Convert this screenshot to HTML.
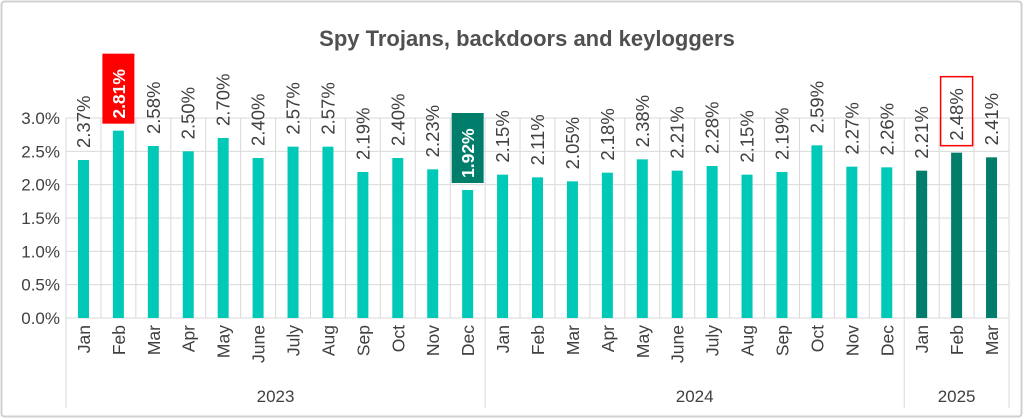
<!DOCTYPE html><html><head><style>body{margin:0;background:#fff}svg{display:block}text{font-family:"Liberation Sans",sans-serif}</style></head><body>
<svg width="1024" height="419" xmlns="http://www.w3.org/2000/svg">
<rect x="1.5" y="1.5" width="1020" height="415" rx="3" fill="#fff" stroke="#d0d0d0" stroke-width="2"/>
<text x="527" y="46" text-anchor="middle" font-size="22" font-weight="bold" fill="#505050">Spy Trojans, backdoors and keyloggers</text>
<g id="c"></g>
</svg>
<script>
const v=[2.37,2.81,2.58,2.50,2.70,2.40,2.57,2.57,2.19,2.40,2.23,1.92,2.15,2.11,2.05,2.18,2.38,2.21,2.28,2.15,2.19,2.59,2.27,2.26,2.21,2.48,2.41];
const m=["Jan","Feb","Mar","Apr","May","June","July","Aug","Sep","Oct","Nov","Dec"];
const L=66,R=1009,T=118,B=318,W=(R-L)/27;let s="";
for(let i=0;i<=6;i++){const y=B-i*(B-T)/6;s+=`<line x1="${L}" x2="${R}" y1="${y}" y2="${y}" stroke="#d9d9d9"/>`;s+=`<text x="60" y="${y+6}" text-anchor="end" font-size="17" fill="#404040">${(i*0.5).toFixed(1)}%</text>`;}
for(let i=0;i<=27;i++){const x=L+i*W;const big=(i==0||i==12||i==24||i==27);s+=`<line x1="${x}" x2="${x}" y1="${T}" y2="${big?408:B}" stroke="#d9d9d9"/>`;}
v.forEach((d,i)=>{const cx=L+(i+.5)*W,top=B-d*(B-T)/3;const dark=i>=24;
s+=`<rect x="${cx-5.5}" y="${top}" width="11" height="${B-top}" fill="${dark?'#007e6b':'#00c9b7'}"/>`;
let fill="#404040",fw="normal";const ty=top-12;
if(i==1){s+=`<rect x="${cx-16}" y="${ty-65}" width="32" height="70" fill="#ff0000"/>`;fill="#fff";fw="bold";}
if(i==11){s+=`<rect x="${cx-16}" y="${ty-65}" width="32" height="70" fill="#007e6b"/>`;fill="#fff";fw="bold";}
if(i==25){s+=`<rect x="${cx-16}" y="${ty-64}" width="32" height="69" fill="none" stroke="#ff0000" stroke-width="1.5"/>`;}
s+=`<text transform="translate(${cx+6.5},${ty}) rotate(-90)" font-size="${fw=='bold'?17.5:18.5}" font-weight="${fw}" fill="${fill}">${d.toFixed(2)}%</text>`;
s+=`<text transform="translate(${cx+6.5},${325}) rotate(-90)" text-anchor="end" font-size="17.5" fill="#404040">${m[i%12]}</text>`;});
[[2023,0,12],[2024,12,24],[2025,24,27]].forEach(([y,a,b])=>{s+=`<text x="${L+(a+b)/2*W}" y="402" text-anchor="middle" font-size="17" fill="#404040">${y}</text>`;});
document.getElementById("c").innerHTML=s;
</script>
</body></html>
